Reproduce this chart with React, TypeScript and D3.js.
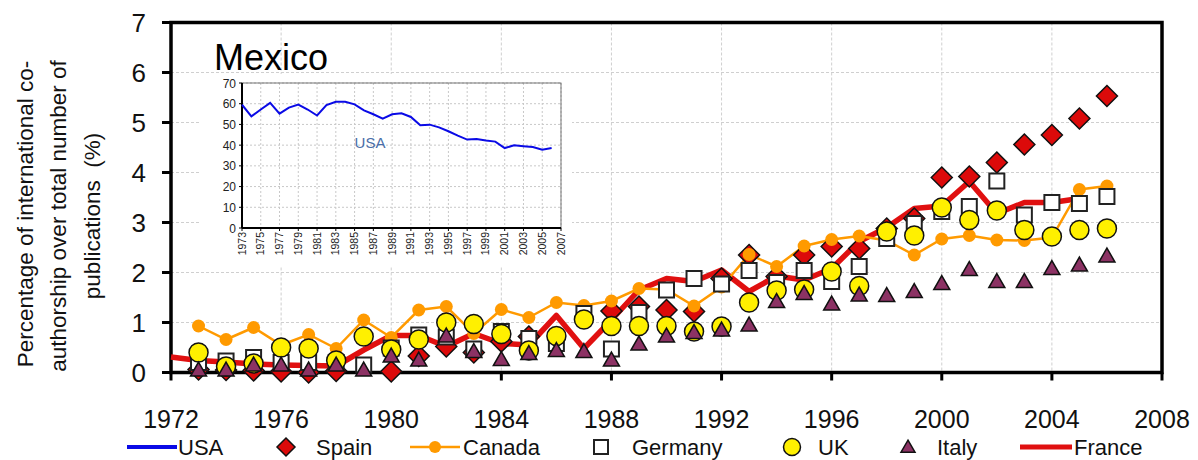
import { useEffect } from 'react'
import * as d3 from 'd3'

// Main chart: share of international co-authorship (%), Mexico
const years = [1973, 1974, 1975, 1976, 1977, 1978, 1979, 1980, 1981, 1982, 1983, 1984, 1985, 1986, 1987, 1988, 1989, 1990, 1991, 1992, 1993, 1994, 1995, 1996, 1997, 1998, 1999, 2000, 2001, 2002, 2003, 2004, 2005, 2006]

const spain = [0.06, 0.05, 0.04, 0.02, 0.0, 0.03, null, 0.02, 0.33, 0.52, 0.4, 0.62, 0.72, null, null, 1.23, 1.32, 1.25, 1.22, 1.88, 2.35, 1.92, 2.35, 2.52, 2.48, 2.88, 3.08, 3.9, 3.92, 4.2, 4.56, 4.75, 5.08, 5.53]
const canada = [0.93, 0.66, 0.9, 0.55, 0.76, 0.48, 1.05, 0.7, 1.25, 1.32, 0.78, 1.26, 1.1, 1.4, 1.34, 1.43, 1.68, 1.66, 1.33, 1.71, 2.36, 2.12, 2.53, 2.66, 2.73, 2.64, 2.35, 2.67, 2.74, 2.65, 2.64, 2.7, 3.66, 3.73]
const germany = [0.2, 0.23, 0.3, 0.2, 0.2, 0.2, 0.15, 0.49, 0.75, 0.71, 0.47, 0.82, 0.68, 0.58, 1.18, 0.47, 1.2, 1.65, 1.88, 1.77, 2.04, 1.8, 2.04, 1.82, 2.12, 2.68, 2.98, 3.22, 3.32, 3.83, 3.15, 3.4, 3.38, 3.52]
const uk = [0.4, 0.12, 0.18, 0.5, 0.48, 0.24, 0.72, 0.46, 0.66, 1.0, 0.97, 0.77, 0.44, 0.73, 1.06, 0.93, 0.93, 0.93, 0.82, 0.92, 1.4, 1.64, 1.66, 2.02, 1.73, 2.82, 2.74, 3.3, 3.05, 3.24, 2.85, 2.72, 2.85, 2.88]
const italy = [0.05, 0.05, 0.15, 0.15, 0.05, 0.15, 0.05, 0.33, 0.25, 0.73, 0.42, 0.26, 0.38, 0.44, 0.42, 0.25, 0.57, 0.73, 0.8, 0.85, 0.95, 1.42, 1.58, 1.37, 1.55, 1.54, 1.62, 1.78, 2.06, 1.82, 1.82, 2.08, 2.15, 2.33]

const franceYears = [1972, 1973, 1974, 1975, 1976, 1977, 1978, 1979, 1980, 1981, 1982, 1983, 1984, 1985, 1986, 1987, 1988, 1989, 1990, 1991, 1992, 1993, 1994, 1995, 1996, 1997, 1998, 1999, 2000, 2001, 2002, 2003, 2004, 2005]
const france = [0.31, 0.24, 0.21, 0.17, 0.15, 0.14, 0.13, 0.45, 0.74, 0.74, 0.52, 0.78, 0.58, 0.55, 1.14, 0.48, 1.05, 1.65, 1.88, 1.82, 2.05, 1.62, 1.93, 1.85, 2.08, 2.62, 2.9, 3.28, 3.33, 3.82, 3.18, 3.4, 3.4, 3.48]

const xTicks = [1972, 1976, 1980, 1984, 1988, 1992, 1996, 2000, 2004, 2008]
const yTicks = [0, 1, 2, 3, 4, 5, 6, 7]

// Inset: USA share (%)
const usa = [59.5, 53.9, 57.2, 60.4, 55.2, 58.1, 59.6, 57.2, 54.3, 59.3, 60.9, 60.9, 59.7, 56.8, 54.9, 52.8, 54.9, 55.4, 53.6, 49.6, 49.9, 48.6, 46.7, 44.6, 42.7, 43.0, 42.2, 41.7, 38.6, 39.9, 39.5, 39.1, 37.8, 38.6]
const insetXTicks = [1973, 1975, 1977, 1979, 1981, 1983, 1985, 1987, 1989, 1991, 1993, 1995, 1997, 1999, 2001, 2003, 2005, 2007]
const insetYTicks = [0, 10, 20, 30, 40, 50, 60, 70]

const FONT = "'Liberation Sans', Arial, sans-serif"
const C = {
  spain: '#dc0a0a',
  canada: '#ff9a00',
  uk: '#fff000',
  italy: '#8c3264',
  france: '#e01010',
  usa: '#0a0ae6',
  grid: '#cfcfcf',
}

const diamond = (cx: number, cy: number, r: number) => `M${cx},${cy - r}L${cx + r},${cy}L${cx},${cy + r}L${cx - r},${cy}Z`
const triangle = (cx: number, cy: number, w: number, h: number) =>
  `M${cx},${cy - h * 0.57}L${cx + w / 2},${cy + h * 0.43}L${cx - w / 2},${cy + h * 0.43}Z`

export default function App() {
  useEffect(() => {
    document.body.style.margin = '0'
  }, [])

  const x = d3.scaleLinear().domain([1972, 2008]).range([171, 1162])
  const y = d3.scaleLinear().domain([0, 7]).range([372.5, 22.5])
  const ix = d3.scaleLinear().domain([1973, 2007]).range([242, 561])
  const iy = d3.scaleLinear().domain([0, 70]).range([228, 83])

  const pts = (vals: (number | null)[]) =>
    years.map((yr, i) => ({ yr, v: vals[i] })).filter((d) => d.v !== null) as { yr: number; v: number }[]

  const mainLine = d3
    .line<{ yr: number; v: number }>()
    .x((d) => x(d.yr))
    .y((d) => y(d.v))
  const insetLine = d3
    .line<number>()
    .x((_, i) => ix(years[i]))
    .y((d) => iy(d))

  const franceData = franceYears.map((yr, i) => ({ yr, v: france[i] }))

  const [x0, x1] = x.range()
  const [y0, y1] = y.range()

  const legendY = 447

  return (
    <svg width={1198} height={460} style={{ display: 'block', fontFamily: FONT }}>
      <rect width={1198} height={460} fill="#fff" />

      {/* main grid */}
      {yTicks.slice(1, -1).map((t) => (
        <line key={'gy' + t} x1={x0} x2={x1} y1={y(t)} y2={y(t)} stroke={C.grid} strokeDasharray="3,2" />
      ))}
      {xTicks.slice(1, -1).map((t) => (
        <line key={'gx' + t} x1={x(t)} x2={x(t)} y1={y1} y2={y0} stroke={C.grid} strokeDasharray="3,2" />
      ))}

      {/* title */}
      <text x={214} y={70} fontSize={36} fill="#000">Mexico</text>

      {/* inset */}
      <rect x={200} y={74} width={372} height={193} fill="#fff" />
      {insetYTicks.slice(1).map((t) => (
        <line key={'igy' + t} x1={ix(1973)} x2={ix(2007)} y1={iy(t)} y2={iy(t)} stroke="#c8c8c8" strokeDasharray="2,2" />
      ))}
      {insetXTicks.slice(1).map((t) => (
        <line key={'igx' + t} x1={ix(t)} x2={ix(t)} y1={iy(70)} y2={iy(0)} stroke="#c8c8c8" strokeDasharray="2,2" />
      ))}
      <rect x={ix(1973)} y={iy(70)} width={ix(2007) - ix(1973)} height={iy(0) - iy(70)} fill="none" stroke="#555" strokeWidth={0.8} />
      <line x1={ix(1973)} x2={ix(1973)} y1={iy(70)} y2={iy(0)} stroke="#000" strokeWidth={2} />
      <line x1={ix(1973)} x2={ix(2007)} y1={iy(0)} y2={iy(0)} stroke="#000" strokeWidth={2} />
      {insetYTicks.map((t) => (
        <g key={'iyt' + t}>
          <line x1={ix(1973) - 3} x2={ix(1973)} y1={iy(t)} y2={iy(t)} stroke="#000" />
          <text x={ix(1973) - 6} y={iy(t) + 4.5} fontSize={12} textAnchor="end" fill="#222">{t}</text>
        </g>
      ))}
      {insetXTicks.map((t) => (
        <g key={'ixt' + t}>
          <line x1={ix(t)} x2={ix(t)} y1={iy(0)} y2={iy(0) + 3} stroke="#000" />
          <text transform={`translate(${ix(t) + 3.5},${iy(0) + 4}) rotate(-90)`} fontSize={10.5} textAnchor="end" fill="#222">{t}</text>
        </g>
      ))}
      <path d={insetLine(usa) || ''} fill="none" stroke={C.usa} strokeWidth={2} />
      <text x={370} y={148} fontSize={15} textAnchor="middle" fill="#4a6ea9">USA</text>

      {/* axes frame */}
      <rect x={x0} y={y1} width={x1 - x0} height={y0 - y1} fill="none" stroke="#000" strokeWidth={3.5} />
      {yTicks.map((t) => (
        <g key={'yt' + t}>
          <line x1={x0 - 9} x2={x0} y1={y(t)} y2={y(t)} stroke="#000" strokeWidth={3} />
          <text x={146} y={y(t) + 9} fontSize={26} textAnchor="end" fill="#111">{t}</text>
        </g>
      ))}
      {xTicks.map((t) => (
        <g key={'xt' + t}>
          <line x1={x(t)} x2={x(t)} y1={y0} y2={y0 + 8} stroke="#000" strokeWidth={3} />
          <text x={x(t)} y={428} fontSize={25} textAnchor="middle" fill="#111">{t}</text>
        </g>
      ))}

      {/* axis title */}
      <g fontSize={22.5} fill="#111" textAnchor="middle">
        <text transform="translate(33,214) rotate(-90)">Percentage of international co-</text>
        <text transform="translate(66,216) rotate(-90)">authorship over total number of</text>
        <text transform="translate(100,216) rotate(-90)">{'publications\u00a0 (%)'}</text>
      </g>

      {/* lines */}
      <path d={mainLine(franceData) || ''} fill="none" stroke={C.france} strokeWidth={5.5} strokeLinejoin="round" />
      <path d={mainLine(pts(canada)) || ''} fill="none" stroke={C.canada} strokeWidth={2.5} />

      {/* markers */}
      {pts(spain).map((d) => (
        <path key={'sp' + d.yr} d={diamond(x(d.yr), y(d.v), 10.5)} fill={C.spain} stroke="#111" strokeWidth={1.5} />
      ))}
      {pts(canada).map((d) => (
        <circle key={'ca' + d.yr} cx={x(d.yr)} cy={y(d.v)} r={6.5} fill={C.canada} />
      ))}
      {pts(germany).map((d) => (
        <rect key={'de' + d.yr} x={x(d.yr) - 7.5} y={y(d.v) - 7.5} width={15} height={15} fill="#fff" stroke="#222" strokeWidth={2} />
      ))}
      {pts(uk).map((d) => (
        <circle key={'uk' + d.yr} cx={x(d.yr)} cy={y(d.v)} r={9.5} fill={C.uk} stroke="#111" strokeWidth={1.5} />
      ))}
      {pts(italy).map((d) => (
        <path key={'it' + d.yr} d={triangle(x(d.yr), y(d.v), 16, 14)} fill={C.italy} stroke="#111" strokeWidth={1.5} />
      ))}

      {/* legend */}
      <g fontSize={22} fill="#111">
        <line x1={127} x2={177} y1={legendY} y2={legendY} stroke={C.usa} strokeWidth={4} />
        <text x={178} y={legendY + 8}>USA</text>
        <path d={diamond(286, legendY, 9)} fill={C.spain} stroke="#111" strokeWidth={1.5} />
        <text x={316} y={legendY + 8}>Spain</text>
        <line x1={410} x2={460} y1={legendY} y2={legendY} stroke={C.canada} strokeWidth={2.5} />
        <circle cx={435} cy={legendY} r={6} fill={C.canada} />
        <text x={463} y={legendY + 8}>Canada</text>
        <rect x={594} y={legendY - 7} width={14} height={14} fill="#fff" stroke="#222" strokeWidth={2} />
        <text x={632} y={legendY + 8}>Germany</text>
        <circle cx={792} cy={legendY} r={8.5} fill={C.uk} stroke="#111" strokeWidth={1.5} />
        <text x={818} y={legendY + 8}>UK</text>
        <path d={triangle(908, legendY, 14, 12)} fill={C.italy} stroke="#111" strokeWidth={1.5} />
        <text x={937} y={legendY + 8}>Italy</text>
        <line x1={1020} x2={1072} y1={legendY} y2={legendY} stroke={C.france} strokeWidth={5} />
        <text x={1074} y={legendY + 8}>France</text>
      </g>
    </svg>
  )
}
